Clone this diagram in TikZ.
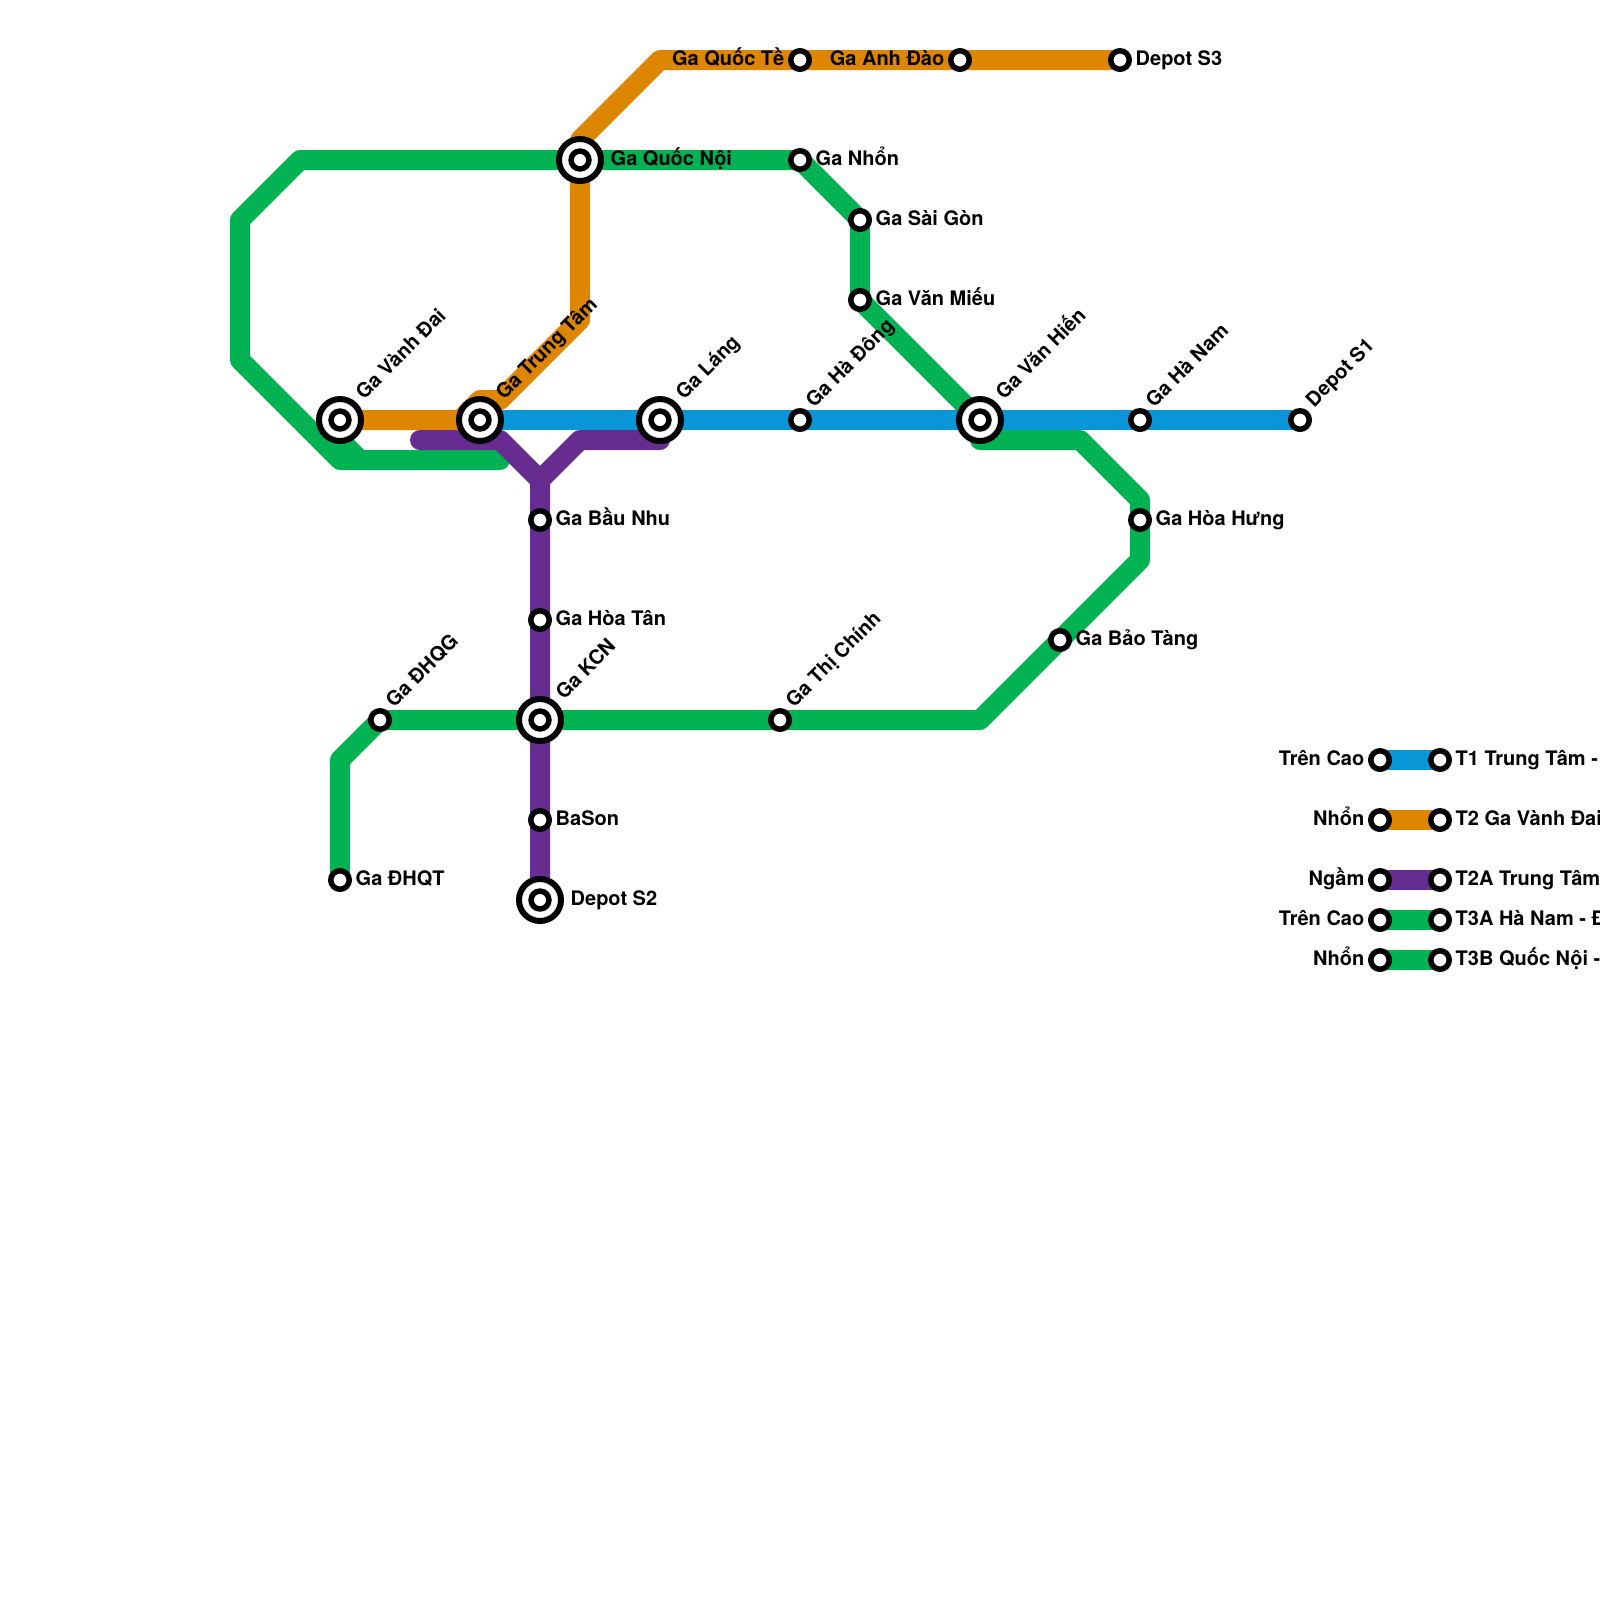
\documentclass[tikz,border=0pt]{standalone}
\usepackage{fontspec}
\setmainfont{TeX Gyre Heros}
\definecolor{lineblue}{HTML}{0896D7}
\definecolor{lineorange}{HTML}{DF8600}
\definecolor{linepurple}{HTML}{662C90}
\definecolor{linegreen}{HTML}{00B251}
\pgfdeclarelayer{lines}
\pgfsetlayers{lines,main}
\tikzset{
	track/.style = {line width = 0.2cm, line cap = round, line join = round},
	keyline/.style = {line width = 0.2cm},
	stn/.style = {circle, draw = black, fill = white, line width = 0.055cm, inner sep = 0pt, outer sep = 0pt, minimum size = 0.185cm},
	bigstn/.style = {circle, draw = black, fill = white, line width = 0.06cm, inner sep = 0pt, outer sep = 0pt, minimum size = 0.42cm,
		path picture = {\draw [line width = 0.055cm] (path picture bounding box.center) circle (0.0895cm);}},
	lbl/.style = {font = \fontsize{5.69pt}{6.8pt}\selectfont\bfseries, inner sep = 0pt, text height = 0.14cm, text depth = 0.04cm},
	lblr/.style = {lbl, anchor = west, xshift = 0.15cm},
	lblbig/.style = {lbl, anchor = west, xshift = 0.30cm},
	lbll/.style = {lbl, anchor = east, xshift = -0.15cm},
	lblup/.style = {lbl, anchor = west, xshift = 0.10cm, yshift = 0.15cm, rotate = 45},
	lblupbig/.style = {lbl, anchor = west, xshift = 0.20cm, yshift = 0.23cm, rotate = 45}
}
\begin{document}
\begin{tikzpicture} [x = 0.2cm, y = -0.2cm]
	\useasboundingbox (0,0) rectangle (80,80);
	% T1
	\node [bigstn] (trungtam) at (24,21) {};
	\node [bigstn] (lang) at (33,21) {};
	\node [stn] (hadong) at (40,21) {};
	\node [bigstn] (vanhien) at (49,21) {};
	\node [stn] (hanam) at (57,21) {};
	\node [stn] (depotone) at (65,21) {};
	% T2
	\node [bigstn] (vanhdai) at (17,21) {};
	\node [bigstn] (quocnoi) at (29,8) {};
	\node [stn] (quocte) at (40,3) {};
	\node [stn] (anhdao) at (48,3) {};
	\node [stn] (depotthree) at (56,3) {};
	% T2A
	\node [stn] (baunhu) at (27,26) {};
	\node [stn] (hoatan) at (27,31) {};
	\node [bigstn] (kcn) at (27,36) {};
	\node [stn] (bason) at (27,41) {};
	\node [bigstn] (depottwo) at (27,45) {};
	\coordinate (purpleend) at (21,22);
	% T3
	\node [stn] (nhon) at (40,8) {};
	\node [stn] (saigon) at (43,11) {};
	\node [stn] (vanmieu) at (43,15) {};
	\node [stn] (hoahung) at (57,26) {};
	\node [stn] (baotang) at (53,32) {};
	\node [stn] (thichinh) at (39,36) {};
	\node [stn] (dhqg) at (19,36) {};
	\node [stn] (dhqt) at (17,44) {};
	\coordinate (greenend) at (25,23);
	% legend
	\node [stn] (keyblueL) at (69,38) {};
	\node [stn] (keyblueR) at (72,38) {};
	\node [stn] (keyorangeL) at (69,41) {};
	\node [stn] (keyorangeR) at (72,41) {};
	\node [stn] (keypurpleL) at (69,44) {};
	\node [stn] (keypurpleR) at (72,44) {};
	\node [stn] (keygreenaL) at (69,46) {};
	\node [stn] (keygreenaR) at (72,46) {};
	\node [stn] (keygreenbL) at (69,48) {};
	\node [stn] (keygreenbR) at (72,48) {};
	\begin{pgfonlayer}{lines}
		\draw [track, linegreen] (quocnoi.center) -- (15,8) -- (12,11) -- (12,18) -- (17,23) -- (greenend);
		\draw [track, linegreen] (vanhdai.center) -- (17,22) -- (18,23);
		\draw [track, linegreen] (quocnoi.center) -- (nhon.center) -- (saigon.center) -- (vanmieu.center) -- (vanhien.center);
		\draw [track, linegreen] (vanhien.center) -- (49,22) -- (54,22) -- (57,25) -- (hoahung.center) -- (57,28) -- (baotang.center) -- (49,36) -- (thichinh.center) -- (kcn.center) -- (dhqg.center) -- (17,38) -- (dhqt.center);
		\draw [track, lineorange] (vanhdai.center) -- (23,21) -- (24,20) -- (25,20) -- (29,16) -- (quocnoi.center) -- (29,7) -- (33,3) -- (quocte.center) -- (anhdao.center) -- (depotthree.center);
		\draw [track, linepurple] (purpleend) -- (25,22) -- (27,24) -- (baunhu.center) -- (hoatan.center) -- (kcn.center) -- (bason.center) -- (depottwo.center);
		\draw [track, linepurple] (27,24) -- (29,22) -- (33,22);
		\draw [track, lineblue] (trungtam.center) -- (lang.center) -- (hadong.center) -- (vanhien.center) -- (hanam.center) -- (depotone.center);
		\draw [keyline, lineblue] (keyblueL.center) -- (keyblueR.center);
		\draw [keyline, lineorange] (keyorangeL.center) -- (keyorangeR.center);
		\draw [keyline, linepurple] (keypurpleL.center) -- (keypurpleR.center);
		\draw [keyline, linegreen] (keygreenaL.center) -- (keygreenaR.center);
		\draw [keyline, linegreen] (keygreenbL.center) -- (keygreenbR.center);
	\end{pgfonlayer}
	% labels
	\node [lblupbig] (vanhdaiT) at (vanhdai) {Ga Vành Đai};
	\node [lblupbig] (trungtamT) at (trungtam) {Ga Trung Tâm};
	\node [lblupbig] (langT) at (lang) {Ga Láng};
	\node [lblup] (hadongT) at (hadong) {Ga Hà Đông};
	\node [lblupbig] (vanhienT) at (vanhien) {Ga Văn Hiến};
	\node [lblup] (hanamT) at (hanam) {Ga Hà Nam};
	\node [lblup] (depotoneT) at (depotone) {Depot S1};
	\node [lblup] (dhqgT) at (dhqg) {Ga ĐHQG};
	\node [lblupbig] (kcnT) at (kcn) {Ga KCN};
	\node [lblup] (thichinhT) at (thichinh) {Ga Thị Chính};
	\node [lbll] (quocteT) at (quocte) {Ga Quốc Tề};
	\node [lbll] (anhdaoT) at (anhdao) {Ga Anh Đào};
	\node [lblr] (depotthreeT) at (depotthree) {Depot S3};
	\node [lblbig] (quocnoiT) at (quocnoi) {Ga Quốc Nội};
	\node [lblr] (nhonT) at (nhon) {Ga Nhổn};
	\node [lblr] (saigonT) at (saigon) {Ga Sài Gòn};
	\node [lblr] (vanmieuT) at (vanmieu) {Ga Văn Miếu};
	\node [lblr] (baunhuT) at (baunhu) {Ga Bầu Nhu};
	\node [lblr] (hoatanT) at (hoatan) {Ga Hòa Tân};
	\node [lblr] (hoahungT) at (hoahung) {Ga Hòa Hưng};
	\node [lblr] (baotangT) at (baotang) {Ga Bảo Tàng};
	\node [lblr] (basonT) at (bason) {BaSon};
	\node [lblbig] (depottwoT) at (depottwo) {Depot S2};
	\node [lblr] (dhqtT) at (dhqt) {Ga ĐHQT};
	\node [lbll] (keyblueT) at (keyblueL) {Trên Cao};
	\node [lbll] (keyorangeT) at (keyorangeL) {Nhổn};
	\node [lbll] (keypurpleT) at (keypurpleL) {Ngầm};
	\node [lbll] (keygreenaT) at (keygreenaL) {Trên Cao};
	\node [lbll] (keygreenbT) at (keygreenbL) {Nhổn};
	\node [lblr] (keyblueN) at (keyblueR) {T1 Trung Tâm -};
	\node [lblr] (keyorangeN) at (keyorangeR) {T2 Ga Vành Đai};
	\node [lblr] (keypurpleN) at (keypurpleR) {T2A Trung Tâm};
	\node [lblr] (keygreenaN) at (keygreenaR) {T3A Hà Nam - Đ};
	\node [lblr] (keygreenbN) at (keygreenbR) {T3B Quốc Nội -};
\end{tikzpicture}
\end{document}
